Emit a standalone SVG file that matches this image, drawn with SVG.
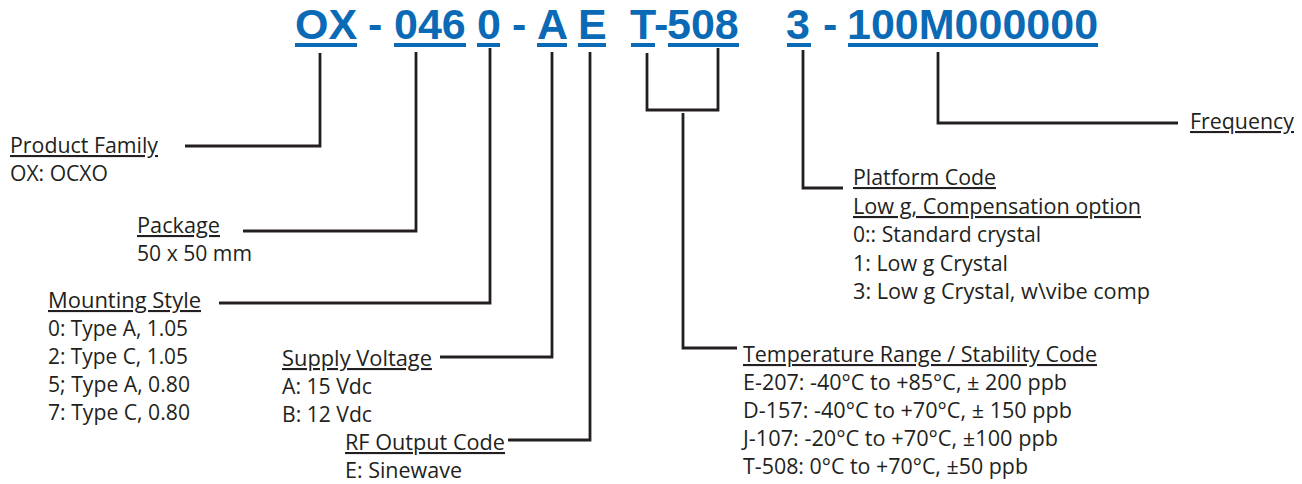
<svg xmlns="http://www.w3.org/2000/svg" width="1302" height="484" viewBox="0 0 1302 484">
<style>
.code{font-family:"Liberation Sans",Arial,sans-serif;font-weight:bold;font-size:43px;fill:#0a6ab6}
.ul{fill:#0a6ab6}
.lbl{font-family:"Open Sans","Noto Sans",sans-serif;font-size:21px;fill:#231f20}
.u{text-decoration:underline}
.ln{fill:none;stroke:#231f20;stroke-width:2.8}
</style>
<rect width="1302" height="484" fill="#ffffff"/>
<g id="code">
<text class="code" x="295" y="39">OX</text>
<text class="code" x="368" y="39">-</text>
<text class="code" x="394" y="39">046</text>
<text class="code" x="477" y="39">0</text>
<text class="code" x="512" y="39">-</text>
<text class="code" x="537" y="39">A</text>
<text class="code" x="578" y="39">E</text>
<text class="code" x="630" y="39">T</text>
<text class="code" x="654" y="39">-</text>
<text class="code" x="667" y="39">508</text>
<text class="code" x="786" y="39">3</text>
<text class="code" x="823" y="39">-</text>
<text class="code" x="847" y="39">100M000000</text>
<rect class="ul" x="295" y="43" width="62" height="4"/>
<rect class="ul" x="394" y="43" width="72" height="4"/>
<rect class="ul" x="477" y="43" width="23" height="4"/>
<rect class="ul" x="537" y="43" width="30" height="4"/>
<rect class="ul" x="578" y="43" width="28" height="4"/>
<rect class="ul" x="631" y="43" width="24" height="4"/>
<rect class="ul" x="668" y="43" width="71" height="4"/>
<rect class="ul" x="787" y="43" width="24" height="4"/>
<rect class="ul" x="848" y="43" width="250" height="4"/>
</g>
<g id="connectors">
<polyline class="ln" points="320,53 320,146 185,146"/>
<polyline class="ln" points="416,52 416,231 243,231"/>
<polyline class="ln" points="490,48 490,303 219,303"/>
<polyline class="ln" points="552,52 552,357 440,357"/>
<polyline class="ln" points="590,52 590,440 508,440"/>
<polyline class="ln" points="647,53 647,110 718,110 718,48"/>
<polyline class="ln" points="683,113 683,348 737,348"/>
<polyline class="ln" points="803,50 803,188 843,188"/>
<polyline class="ln" points="938,52 938,123 1178,123"/>
</g>
<g id="product-family">
<text class="lbl u" x="10" y="153" textLength="148" lengthAdjust="spacingAndGlyphs">Product Family</text>
<text class="lbl" x="10" y="181" textLength="98" lengthAdjust="spacingAndGlyphs">OX: OCXO</text>
</g>
<g id="package">
<text class="lbl u" x="137" y="233" textLength="83" lengthAdjust="spacingAndGlyphs">Package</text>
<text class="lbl" x="137" y="261" textLength="115" lengthAdjust="spacingAndGlyphs">50 x 50 mm</text>
</g>
<g id="mounting-style">
<text class="lbl u" x="48" y="308" textLength="153" lengthAdjust="spacingAndGlyphs">Mounting Style</text>
<text class="lbl" x="48" y="336" textLength="140" lengthAdjust="spacingAndGlyphs">0: Type A, 1.05</text>
<text class="lbl" x="48" y="364" textLength="140" lengthAdjust="spacingAndGlyphs">2: Type C, 1.05</text>
<text class="lbl" x="48" y="392" textLength="142" lengthAdjust="spacingAndGlyphs">5; Type A, 0.80</text>
<text class="lbl" x="48" y="420" textLength="142" lengthAdjust="spacingAndGlyphs">7: Type C, 0.80</text>
</g>
<g id="supply-voltage">
<text class="lbl u" x="282" y="366" textLength="150" lengthAdjust="spacingAndGlyphs">Supply Voltage</text>
<text class="lbl" x="282" y="394" textLength="90" lengthAdjust="spacingAndGlyphs">A: 15 Vdc</text>
<text class="lbl" x="282" y="422" textLength="90" lengthAdjust="spacingAndGlyphs">B: 12 Vdc</text>
</g>
<g id="rf-output">
<text class="lbl u" x="345" y="450" textLength="160" lengthAdjust="spacingAndGlyphs">RF Output Code</text>
<text class="lbl" x="345" y="478" textLength="117" lengthAdjust="spacingAndGlyphs">E: Sinewave</text>
</g>
<g id="temperature">
<text class="lbl u" x="743" y="362" textLength="354" lengthAdjust="spacingAndGlyphs">Temperature Range / Stability Code</text>
<text class="lbl" x="743" y="390" textLength="324" lengthAdjust="spacingAndGlyphs">E-207: -40°C to +85°C, ± 200 ppb</text>
<text class="lbl" x="743" y="418" textLength="329" lengthAdjust="spacingAndGlyphs">D-157: -40°C to +70°C, ± 150 ppb</text>
<text class="lbl" x="743" y="446" textLength="315" lengthAdjust="spacingAndGlyphs">J-107: -20°C to +70°C, ±100 ppb</text>
<text class="lbl" x="743" y="474" textLength="285" lengthAdjust="spacingAndGlyphs">T-508: 0°C to +70°C, ±50 ppb</text>
</g>
<g id="platform">
<text class="lbl u" x="853" y="185" textLength="143" lengthAdjust="spacingAndGlyphs">Platform Code</text>
<text class="lbl u" x="853" y="214" textLength="288" lengthAdjust="spacingAndGlyphs">Low g, Compensation option</text>
<text class="lbl" x="853" y="242" textLength="188" lengthAdjust="spacingAndGlyphs">0:: Standard crystal</text>
<text class="lbl" x="853" y="271" textLength="155" lengthAdjust="spacingAndGlyphs">1: Low g Crystal</text>
<text class="lbl" x="853" y="299" textLength="297" lengthAdjust="spacingAndGlyphs">3: Low g Crystal, w\vibe comp</text>
</g>
<g id="frequency">
<text class="lbl u" x="1190" y="129" textLength="104" lengthAdjust="spacingAndGlyphs">Frequency</text>
</g>
</svg>
